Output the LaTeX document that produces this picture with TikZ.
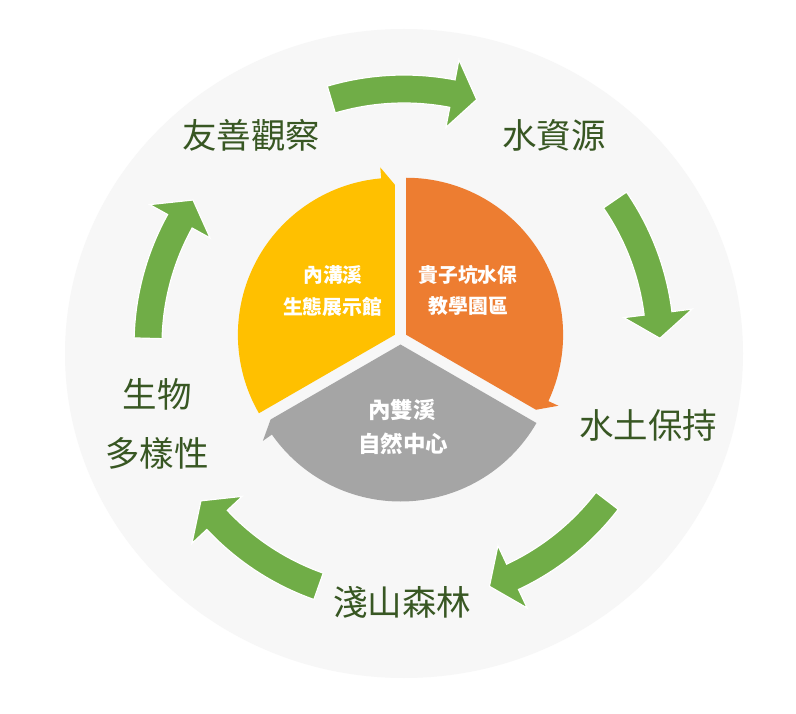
\documentclass[tikz,border=0pt]{standalone}
\usepackage{fontspec}
\newfontfamily\cjk{Noto Sans CJK TC}
\usetikzlibrary{calc}
\definecolor{bgcircle}{HTML}{F7F7F7}
\definecolor{segyellow}{HTML}{FFC000}
\definecolor{segorange}{HTML}{ED7D31}
\definecolor{seggray}{HTML}{A5A5A5}
\definecolor{arrowgreen}{HTML}{70AD47}
\definecolor{labelgreen}{HTML}{385723}
\begin{document}
\begin{tikzpicture}[x=1pt,y=1pt,
  lbl/.style={font=\cjk\fontsize{34.5}{40}\selectfont, text=labelgreen, inner sep=0pt},
  ctr/.style={font=\cjk\bfseries\fontsize{19.8}{23}\selectfont, text=white, inner sep=0pt},
  ctrbig/.style={font=\cjk\bfseries\fontsize{22.5}{26}\selectfont, text=white, inner sep=0pt},
  greenarrow/.style={fill=arrowgreen, draw=white, line width=1.2pt, line join=miter}]
\fill[white] (0,0) rectangle (796,-714);
\useasboundingbox (0,0) rectangle (796,-714);
\fill[bgcircle] (404,-353.5) ellipse [x radius=339, y radius=324.5];

% pie segments
\begin{scope}[shift={(394.9,-334.75)}]
  \fill[segyellow] (0,0) -- (210:157) arc[start angle=210,end angle=95,radius=157] -- (95:168) -- (90:150) -- cycle;
\end{scope}
\begin{scope}[shift={(406.1,-334.75)}]
  \fill[segorange] (0,0) -- (90:157) arc[start angle=90,end angle=-25,radius=157] -- (-25:168) -- (-30:150) -- cycle;
\end{scope}
\begin{scope}[shift={(400.5,-344.5)}]
  \fill[seggray] (0,0) -- (330:157) arc[start angle=330,end angle=215,radius=157] -- (215:168) -- (210:150) -- cycle;
\end{scope}

% green cycle arrows
\begin{scope}[shift={(404,-345)}]
\foreach \c in {90,18,-54,-126,-198} {
  \pgfmathsetmacro\s{\c+16.5}
  \pgfmathsetmacro\t{\c-16.5}
  \pgfmathsetmacro\b{\c-10.9}
  \filldraw[greenarrow] (\s:270) arc[start angle=\s, end angle=\b, radius=270]
    -- (\b:290.5) -- (\t:256) -- (\b:221.5) -- (\b:242)
    arc[start angle=\b, end angle=\s, radius=242] -- cycle;
}
\end{scope}

% outer labels
\node[lbl] (obs) at (251,-135) {友善觀察};
\node[lbl] (water) at (554,-135) {水資源};
\node[lbl] (soil) at (648,-425) {水土保持};
\node[lbl] (forest) at (402,-602) {淺山森林};
\node[lbl] (bio1) at (157,-394) {生物};
\node[lbl] (bio2) at (157,-453) {多樣性};

% centre labels
\node[ctr] (y1) at (333,-275) {內溝溪};
\node[ctr] (y2) at (332.5,-306.5) {生態展示館};
\node[ctr] (o1) at (468,-275) {貴子坑水保};
\node[ctr] (o2) at (468.5,-306.5) {教學園區};
\node[ctrbig] (g1) at (402,-410) {內雙溪};
\node[ctrbig] (g2) at (403,-444) {自然中心};
\end{tikzpicture}
\end{document}
